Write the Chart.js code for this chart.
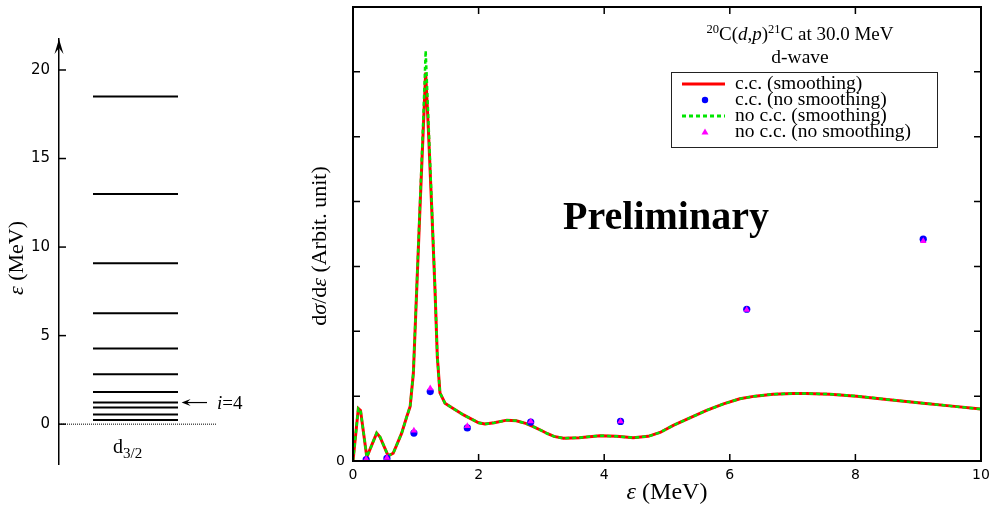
<!DOCTYPE html>
<html>
<head>
<meta charset="utf-8">
<script src="https://cdn.jsdelivr.net/npm/chart.js@4.4.1/dist/chart.umd.min.js"></script>
<style>
body{margin:0;background:#fff;}
canvas{position:absolute;left:0;top:0;}
</style>
</head>
<body>
<canvas id="levels" width="1004" height="505"></canvas>
<canvas id="xsec" width="1004" height="505"></canvas>
<script>
// left panel: d3/2 pseudo-state energies (MeV)
var levels = [0.23, 0.54, 0.94, 1.22, 1.82, 2.82, 4.27, 6.27, 9.08, 13.0, 18.5];
var markedLevel = 3; // the one with the arrow, i=4
var levelTicks = [0, 5, 10, 15, 20];

// right panel: smoothed breakup cross section
var eps = [0, 0.085, 0.12, 0.22, 0.377, 0.43, 0.56, 0.64, 0.775, 0.855, 0.91, 0.961, 1.014, 1.067, 1.12, 1.157,
  1.199, 1.253, 1.306, 1.343, 1.385, 1.465, 1.545, 1.76, 2.0, 2.1, 2.25, 2.45, 2.6, 2.75, 2.87, 3.0, 3.1, 3.2,
  3.35, 3.6, 3.93, 4.2, 4.46, 4.7, 4.89, 5.1, 5.4, 5.63, 5.9, 6.16, 6.4, 6.69, 7.0, 7.22, 7.6, 8.02, 8.5, 9.08, 9.5, 10];
var ccSmooth = [0, 0.81, 0.78, 0.06, 0.43, 0.37, 0.08, 0.12, 0.43, 0.68, 0.84, 1.35, 2.63, 3.91, 5.14, 5.99,
  5.14, 3.91, 2.63, 1.60, 1.05, 0.89, 0.84, 0.71, 0.59, 0.57, 0.59, 0.63, 0.62, 0.58, 0.53, 0.47, 0.42, 0.38,
  0.35, 0.36, 0.39, 0.38, 0.36, 0.38, 0.44, 0.55, 0.68, 0.78, 0.88, 0.96, 1.00, 1.03, 1.04, 1.04, 1.03, 1.00, 0.95, 0.89, 0.85, 0.80];
var noccSmooth = [0, 0.81, 0.78, 0.06, 0.43, 0.37, 0.08, 0.12, 0.43, 0.68, 0.84, 1.36, 2.66, 3.98, 5.30, 6.33,
  5.30, 3.98, 2.66, 1.61, 1.05, 0.89, 0.84, 0.71, 0.59, 0.57, 0.59, 0.63, 0.62, 0.58, 0.53, 0.47, 0.42, 0.38,
  0.35, 0.36, 0.39, 0.38, 0.36, 0.38, 0.44, 0.55, 0.68, 0.78, 0.88, 0.96, 1.00, 1.03, 1.04, 1.04, 1.03, 1.00, 0.95, 0.89, 0.85, 0.80];

// bin values without smoothing
var binEps = [0.21, 0.54, 0.97, 1.23, 1.82, 2.83, 4.26, 6.27, 9.08];
var ccBins = [0.02, 0.04, 0.43, 1.07, 0.51, 0.60, 0.61, 2.34, 3.42];
var noccBins = [0.03, 0.05, 0.47, 1.12, 0.54, 0.61, 0.61, 2.33, 3.39];

var xTicks = [0, 2, 4, 6, 8, 10];
var yTicks = [0, 1, 2, 3, 4, 5, 6, 7];

var SERIF = '"Liberation Serif", "Times New Roman", serif';
var SANS = '"DejaVu Sans", sans-serif';

function f(size, style) {
    return (style ? style + ' ' : '') + size + 'px ' + SERIF;
}
function drawRuns(ctx, parts, x, y, align) {
    var w = 0;
    parts.forEach(function (p) { ctx.font = p.font; w += ctx.measureText(p.t).width; });
    var cx = align === 'center' ? x - w / 2 : x;
    ctx.textAlign = 'left';
    parts.forEach(function (p) {
        ctx.font = p.font;
        ctx.fillText(p.t, cx, y + (p.dy || 0));
        cx += ctx.measureText(p.t).width;
    });
}
// stealth style arrow head, tip at (x,y) pointing along (dx,dy)
function arrowHead(ctx, x, y, dx, dy, len, half) {
    var px = -dy, py = dx;
    ctx.beginPath();
    ctx.moveTo(x, y);
    ctx.lineTo(x - dx * len + px * half, y - dy * len + py * half);
    ctx.lineTo(x - dx * len * 0.6, y - dy * len * 0.6);
    ctx.lineTo(x - dx * len - px * half, y - dy * len - py * half);
    ctx.closePath();
    ctx.fill();
}

var levelDeco = {
    id: 'levelDeco',
    afterDraw: function (chart) {
        var ctx = chart.ctx, a = chart.chartArea, ys = chart.scales.y, xs = chart.scales.x;
        ctx.save();
        ctx.strokeStyle = '#000';
        ctx.fillStyle = '#000';
        ctx.lineWidth = 1.5;
        levelTicks.forEach(function (v) {
            var y = ys.getPixelForValue(v);
            ctx.beginPath(); ctx.moveTo(a.left, y); ctx.lineTo(a.left + 7, y); ctx.stroke();
        });
        arrowHead(ctx, a.left, a.top, 0, -1, 15, 4.5);

        // arrow to level i=4
        var ly = ys.getPixelForValue(levels[markedLevel]);
        var x0 = xs.getPixelForValue(0.613), x1 = xs.getPixelForValue(0.74);
        ctx.lineWidth = 1.2;
        ctx.beginPath(); ctx.moveTo(x1, ly); ctx.lineTo(x0 + 5, ly); ctx.stroke();
        arrowHead(ctx, x0, ly, -1, 0, 9, 3.5);
        ctx.textBaseline = 'alphabetic';
        drawRuns(ctx, [{t: 'i', font: f(19, 'italic')}, {t: '=4', font: f(19)}], xs.getPixelForValue(0.79), ly + 6, 'left');

        drawRuns(ctx, [{t: 'd', font: f(20)}, {t: '3/2', font: f(15), dy: 5}], xs.getPixelForValue(0.27), 453, 'left');

        ctx.translate(17, 258);
        ctx.rotate(-Math.PI / 2);
        ctx.textBaseline = 'middle';
        drawRuns(ctx, [{t: 'ε', font: f(22, 'italic')}, {t: ' (MeV)', font: f(22)}], 0, 0, 'center');
        ctx.restore();
    }
};

var levelSets = levels.map(function (e) {
    return {data: [{x: 0.17, y: e}, {x: 0.595, y: e}], borderColor: '#000', borderWidth: 2, pointRadius: 0};
});
levelSets.push({data: [{x: 0, y: 0}, {x: 0.79, y: 0}], borderColor: '#000', borderWidth: 1, borderDash: [1, 1], pointRadius: 0});

new Chart(document.getElementById('levels'), {
    type: 'line',
    data: {datasets: levelSets},
    options: {
        responsive: false,
        animation: false,
        layout: {padding: {left: 0, top: 39, right: 745, bottom: 41}},
        plugins: {legend: {display: false}, tooltip: {enabled: false}},
        scales: {
            x: {type: 'linear', min: 0, max: 1, display: false},
            y: {
                type: 'linear', min: -2.25, max: 21.75,
                afterBuildTicks: function (s) { s.ticks = levelTicks.map(function (v) { return {value: v}; }); },
                afterFit: function (s) { s.width = 59; s.paddingTop = 0; s.paddingBottom = 0; },
                grid: {drawOnChartArea: false, drawTicks: false},
                border: {display: true, color: '#000', width: 1.5},
                ticks: {font: {family: SANS, size: 15}, color: '#000', padding: 9}
            }
        }
    },
    plugins: [levelDeco]
});

var frameDeco = {
    id: 'frameDeco',
    afterDraw: function (chart) {
        var ctx = chart.ctx, a = chart.chartArea, xs = chart.scales.x, ys = chart.scales.y;
        ctx.save();
        ctx.strokeStyle = '#000';
        ctx.lineWidth = 2;
        ctx.strokeRect(a.left, a.top, a.right - a.left, a.bottom - a.top);
        ctx.lineWidth = 1.5;
        xTicks.forEach(function (v) {
            var x = xs.getPixelForValue(v);
            ctx.beginPath();
            ctx.moveTo(x, a.bottom); ctx.lineTo(x, a.bottom - 7);
            ctx.moveTo(x, a.top); ctx.lineTo(x, a.top + 7);
            ctx.stroke();
        });
        yTicks.forEach(function (v) {
            var y = ys.getPixelForValue(v);
            ctx.beginPath();
            ctx.moveTo(a.left, y); ctx.lineTo(a.left + 7, y);
            ctx.moveTo(a.right, y); ctx.lineTo(a.right - 7, y);
            ctx.stroke();
        });

        ctx.fillStyle = '#000';
        ctx.textBaseline = 'alphabetic';
        drawRuns(ctx, [
            {t: '20', font: f(12.5), dy: -7}, {t: 'C(', font: f(19)}, {t: 'd', font: f(19, 'italic')},
            {t: ',', font: f(19)}, {t: 'p', font: f(19, 'italic')}, {t: ')', font: f(19)},
            {t: '21', font: f(12.5), dy: -7}, {t: 'C at 30.0 MeV', font: f(19)}
        ], 800, 40, 'center');
        drawRuns(ctx, [{t: 'd-wave', font: f(19.5)}], 800, 63, 'center');

        // legend box
        ctx.lineWidth = 1;
        ctx.strokeStyle = '#222';
        ctx.strokeRect(671.5, 72.5, 266, 75);
        chart.data.datasets.forEach(function (ds, i) {
            var base = 89 + i * 16, sy = base - 5;
            if (ds.showLine === false) {
                ctx.fillStyle = ds.backgroundColor;
                ctx.beginPath();
                if (ds.pointStyle === 'triangle') {
                    var r = 3.5;
                    ctx.moveTo(705, sy - r); ctx.lineTo(705 + r, sy + r * 0.7); ctx.lineTo(705 - r, sy + r * 0.7);
                    ctx.closePath();
                } else {
                    ctx.arc(705, sy, 3.2, 0, Math.PI * 2);
                }
                ctx.fill();
            } else {
                ctx.strokeStyle = ds.borderColor;
                ctx.lineWidth = 3;
                ctx.setLineDash(ds.borderDash || []);
                ctx.beginPath(); ctx.moveTo(682, sy); ctx.lineTo(725, sy); ctx.stroke();
                ctx.setLineDash([]);
            }
            ctx.fillStyle = '#000';
            drawRuns(ctx, [{t: ds.label, font: f(19.5)}], 735, base, 'left');
        });

        drawRuns(ctx, [{t: 'Preliminary', font: f(40, 'bold')}], 666, 229, 'center');

        drawRuns(ctx, [{t: 'ε', font: f(24, 'italic')}, {t: ' (MeV)', font: f(24)}], 667, 499, 'center');

        ctx.translate(320, 246);
        ctx.rotate(-Math.PI / 2);
        ctx.textBaseline = 'middle';
        drawRuns(ctx, [
            {t: 'd', font: f(22)}, {t: 'σ', font: f(22, 'italic')}, {t: '/d', font: f(22)},
            {t: 'ε', font: f(22, 'italic')}, {t: ' (Arbit. unit)', font: f(22)}
        ], 0, 0, 'center');
        ctx.restore();
    }
};

function pairs(xv, yv) {
    return xv.map(function (x, i) { return {x: x, y: yv[i]}; });
}

new Chart(document.getElementById('xsec'), {
    type: 'line',
    data: {
        datasets: [{
            label: 'c.c. (smoothing)',
            data: pairs(eps, ccSmooth),
            borderColor: 'rgb(255,0,0)',
            borderWidth: 3,
            pointRadius: 0,
            order: 4
        }, {
            label: 'c.c. (no smoothing)',
            data: pairs(binEps, ccBins),
            showLine: false,
            pointStyle: 'circle',
            pointRadius: 3.6,
            backgroundColor: 'rgb(0,0,255)',
            borderColor: 'rgb(0,0,255)',
            borderWidth: 0,
            order: 2
        }, {
            label: 'no c.c. (smoothing)',
            data: pairs(eps, noccSmooth),
            borderColor: 'rgb(0,230,0)',
            borderWidth: 2.5,
            borderDash: [4, 3],
            pointRadius: 0,
            order: 3
        }, {
            label: 'no c.c. (no smoothing)',
            data: pairs(binEps, noccBins),
            showLine: false,
            pointStyle: 'triangle',
            pointRadius: 3.8,
            backgroundColor: 'rgb(255,0,255)',
            borderColor: 'rgb(255,0,255)',
            borderWidth: 0,
            order: 1
        }]
    },
    options: {
        responsive: false,
        animation: false,
        layout: {padding: {left: 0, top: 7, right: 23, bottom: 0}},
        plugins: {legend: {display: false}, tooltip: {enabled: false}},
        scales: {
            x: {
                type: 'linear', min: 0, max: 10,
                afterBuildTicks: function (s) { s.ticks = xTicks.map(function (v) { return {value: v}; }); },
                afterFit: function (s) { s.height = 44; s.paddingLeft = 0; s.paddingRight = 0; },
                grid: {drawOnChartArea: false, drawTicks: false},
                border: {display: false},
                ticks: {font: {family: SANS, size: 14}, color: '#000', padding: 6, maxRotation: 0}
            },
            y: {
                type: 'linear', min: 0, max: 7,
                afterBuildTicks: function (s) { s.ticks = yTicks.map(function (v) { return {value: v}; }); },
                afterFit: function (s) { s.width = 353; s.paddingTop = 0; s.paddingBottom = 0; },
                grid: {drawOnChartArea: false, drawTicks: false},
                border: {display: false},
                ticks: {
                    font: {family: SANS, size: 14}, color: '#000', padding: 8,
                    callback: function (v) { return v === 0 ? '0' : ''; }
                }
            }
        }
    },
    plugins: [frameDeco]
});
</script>
</body>
</html>
